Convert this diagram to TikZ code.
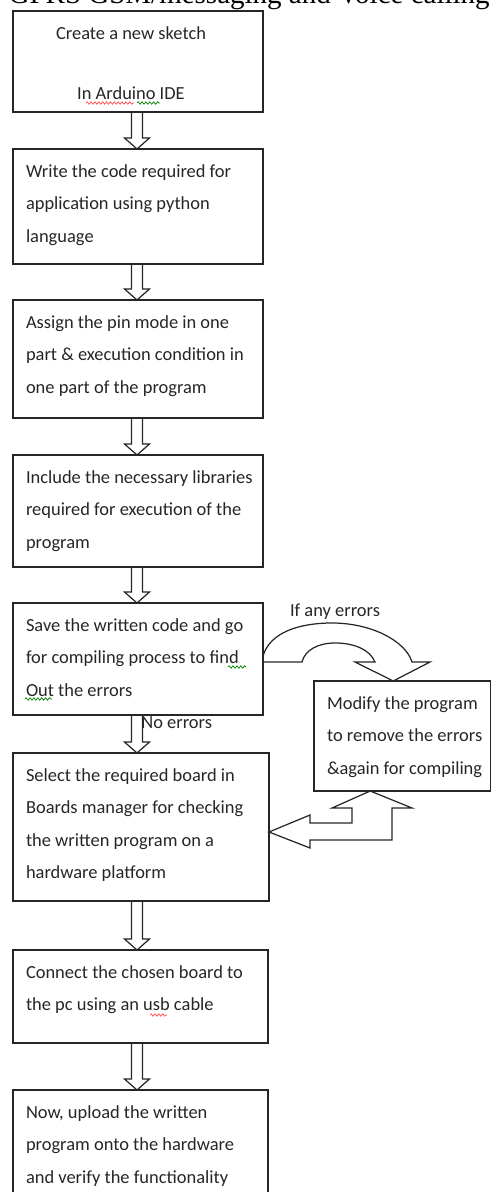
\documentclass[tikz,border=0pt]{standalone}
\usepackage{fontspec}
\setmainfont{Carlito}
\newfontfamily\headfont{Liberation Serif}
\usetikzlibrary{calc,decorations.pathmorphing}
\newlength{\pxu}
\setlength{\pxu}{0.02cm}
\newcommand{\steptext}[3]{\parbox[c][#2\pxu][t]{#1\pxu}{\raggedright\leftskip=13\pxu\rule{0pt}{16pt}#3}}
\newcommand{\flowarrow}[2]{\draw[blockarrow] ($(#1.south -| ax)+(-5.5,0)$) -- ($(#2.north -| ax)+(-5.5,-11)$) -- ($(#2.north -| ax)+(-12.5,-11)$) -- (#2.north -| ax) -- ($(#2.north -| ax)+(12.5,-11)$) -- ($(#2.north -| ax)+(5.5,-11)$) -- ($(#1.south -| ax)+(5.5,0)$);}
\tikzset{
  stepbox/.style={draw=black!85, line width=0.8pt, anchor=north west, inner sep=0pt, outer sep=0pt, text=black!85, font=\fontsize{10.5}{18.5}\selectfont},
  blockarrow/.style={draw=black!85, line width=0.7pt, line join=miter},
  lbl/.style={inner sep=0pt, text=black!85, font=\fontsize{10.5}{12}\selectfont},
  squiggle/.style={line width=0.4pt, decorate, decoration={snake, amplitude=0.7pt, segment length=2.2pt}}
}
\begin{document}
\begin{tikzpicture}[x=0.02cm,y=-0.02cm]
        \useasboundingbox (0,0) rectangle (492,1192);
        \clip (0,0) rectangle (492,1192);
        \node[anchor=base east, inner sep=0pt, font=\headfont\fontsize{16.5}{18}\selectfont] (title) at (490,4) {GPRS GSM/messaging and Voice calling};
        \coordinate (ax) at (137,0);
        \node[stepbox] (create) at (13,11) {\parbox[c][101\pxu][t]{250\pxu}{\centering\rightskip=14\pxu plus 1fil\rule{0pt}{16pt}Create a new sketch\\[16pt]In Arduino IDE}};
        \foreach \n/\y/\w/\h/\t in{
        write/149/250/115/{Write the code required for\\application using python\\language},
        assign/300/250/118/{Assign the pin mode in one\\part \& execution condition in\\one part of the program},
        include/455/250/112/{Include the necessary libraries\\required for execution of the\\program},
        save/603/250/112/{Save the written code and go\\for compiling process to find\\Out the errors},
        select/753/256/148/{Select the required board in\\Boards manager for checking\\the written program on a\\hardware platform},
        connect/950/255/93/{Connect the chosen board to\\the pc using an usb cable},
        upload/1090/255/115/{Now, upload the written\\program onto the hardware\\and verify the functionality}
        }
        {
            \node[stepbox] (\n) at (13,\y) {\steptext{\w}{\h}{\t}};
        }
        \node[stepbox] (modify) at (314,681) {\steptext{176.5}{110}{Modify the program\\to remove the errors\\\&again for compiling}};
        \foreach \a/\b in {create/write, write/assign, assign/include, include/save, save/select, select/connect, connect/upload}
        {
            \flowarrow{\a}{\b}
        }
        \node[lbl, anchor=west] (noerr) at (141,723) {No errors};
        \node[lbl] (anyerr) at (335,612) {If any errors};
        \draw[blockarrow] ($(save.east)+(0,-3)$) .. controls (270,632) and (300,623) .. (332,623) .. controls (370,623) and (405,640) .. (412,662) -- (430,662) -- ($(modify.north)+(-9,0)$) -- (355,662) -- (375,662) .. controls (370,650) and (355,643) .. (335,643) .. controls (318,643) and (305,650) .. (302,662) -- ($(save.east)+(0,3)$);
        \draw[blockarrow] ($(select.east)+(0,5)$) -- (310,815) -- (310,823) -- (352,823) -- (352,808) -- (332,808) -- ($(modify.south)+(-32,0)$) -- (412,808) -- (392,808) -- (392,840) -- (310,840) -- (310,848) -- cycle;
        \draw[squiggle, red!70] (86,103) -- (134,103);
        \draw[squiggle, green!50!black] (137,103) -- (160,103);
        \draw[squiggle, green!50!black] (228,667) -- (246,667);
        \draw[squiggle, green!50!black] (25,699) -- (52,699);
        \draw[squiggle, red!70] (150,1015) -- (167,1015);
    \end{tikzpicture}
\end{document}
